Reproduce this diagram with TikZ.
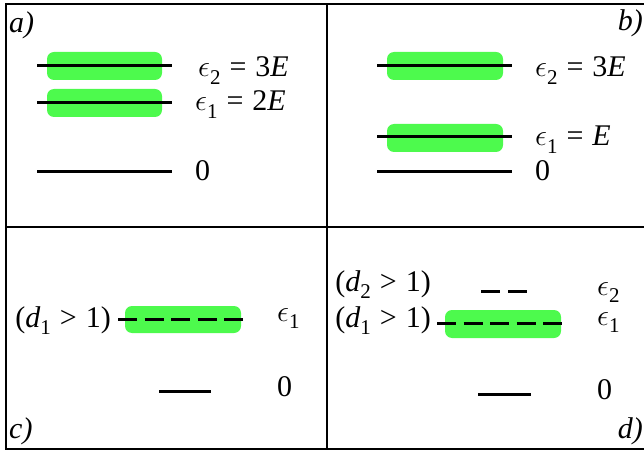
\RequirePackage{fix-cm}
\documentclass[tikz,border=0pt]{standalone}
\usepackage{fontspec}
\setmainfont{Liberation Serif}[ItalicFont={Liberation Serif Italic}]
\definecolor{lvlgreen}{RGB}{77,250,77}
\newcommand\myeps{\ensuremath{\epsilon}}
\newcommand\mysub[1]{\raisebox{-0.24em}{\fontsize{21}{22}\selectfont #1}}
\newcommand\mygap{\hspace{0.3em}}
\tikzset{
  frame/.style={line width=1.6pt, black},
  level/.style={line width=3pt, black},
  dlevel/.style={line width=3pt, black, dash pattern=on 19pt off 7.5pt},
  band/.style={fill=lvlgreen, rounded corners=7pt},
  lbl/.style={inner sep=0pt, font=\fontsize{30}{36}\selectfont},
}
\begin{document}
\begin{tikzpicture}[x=1pt,y=-1pt]
\useasboundingbox (0,0) rectangle (644,454);
% frame
\draw[frame] (6,4) rectangle (648,449);
\draw[frame] (327,4) -- (327,449);
\draw[frame] (6,227) -- (648,227);
% panel a
\node[lbl, anchor=base west] (la) at (9,33) {\textit{a)}};
\fill[band] (47,52) rectangle (162,80);
\fill[band] (47,89) rectangle (162,117);
\coordinate (a2l) at (37,66); \coordinate (a2r) at (172,66);
\coordinate (a1l) at (37,103); \coordinate (a1r) at (172,103);
\coordinate (a0l) at (37,172); \coordinate (a0r) at (172,172);
\draw[level] (a2l) -- (a2r);
\draw[level] (a1l) -- (a1r);
\draw[level] (a0l) -- (a0r);
\node[lbl, anchor=base west] (ae2) at (198,77) {\myeps\mysub{2}\mygap=\mygap3\textit{E}};
\node[lbl, anchor=base west] (ae1) at (195,111) {\myeps\mysub{1}\mygap=\mygap2\textit{E}};
\node[lbl, anchor=base west] (ae0) at (195,181) {0};
% panel b
\node[lbl, anchor=base east] (lb) at (643,31) {\textit{b)}};
\fill[band] (387,52) rectangle (503,80);
\fill[band] (387,124) rectangle (503,152);
\coordinate (b2l) at (377,66); \coordinate (b2r) at (512,66);
\coordinate (b1l) at (377,137); \coordinate (b1r) at (512,137);
\coordinate (b0l) at (377,172); \coordinate (b0r) at (512,172);
\draw[level] (b2l) -- (b2r);
\draw[level] (b1l) -- (b1r);
\draw[level] (b0l) -- (b0r);
\node[lbl, anchor=base west] (be2) at (535,77) {\myeps\mysub{2}\mygap=\mygap3\textit{E}};
\node[lbl, anchor=base west] (be1) at (535,146) {\myeps\mysub{1}\mygap=\mygap\textit{E}};
\node[lbl, anchor=base west] (be0) at (535,181) {0};
% panel c
\node[lbl, anchor=base west] (lc) at (9,438) {\textit{c)}};
\fill[band] (125,306) rectangle (241,333);
\coordinate (c1l) at (118,319); \coordinate (c1r) at (248,319);
\coordinate (c0l) at (159,391); \coordinate (c0r) at (211,391);
\draw[dlevel] (c1l) -- (c1r);
\draw[level] (c0l) -- (c0r);
\node[lbl, anchor=base east] (cd1) at (111,327) {(\textit{d}\mysub{1}\mygap>\mygap1)};
\node[lbl, anchor=base west] (ce1) at (277,321) {\myeps\mysub{1}};
\node[lbl, anchor=base west] (ce0) at (277,396) {0};
% panel d
\node[lbl, anchor=base east] (ld) at (643,438) {\textit{d)}};
\fill[band] (445,310) rectangle (561,338);
\coordinate (d2l) at (481,291); \coordinate (d2r) at (528,291);
\coordinate (d1l) at (437,323); \coordinate (d1r) at (568,323);
\coordinate (d0l) at (478,394); \coordinate (d0r) at (531,394);
\draw[level, dash pattern=on 19pt off 8pt] (d2l) -- (d2r);
\draw[dlevel] (d1l) -- (d1r);
\draw[level] (d0l) -- (d0r);
\node[lbl, anchor=base east] (dd2) at (431,291) {(\textit{d}\mysub{2}\mygap>\mygap1)};
\node[lbl, anchor=base east] (dd1) at (431,327) {(\textit{d}\mysub{1}\mygap>\mygap1)};
\node[lbl, anchor=base west] (de2) at (597,295) {\myeps\mysub{2}};
\node[lbl, anchor=base west] (de1) at (597,325) {\myeps\mysub{1}};
\node[lbl, anchor=base west] (de0) at (597,399) {0};
\end{tikzpicture}
\end{document}
